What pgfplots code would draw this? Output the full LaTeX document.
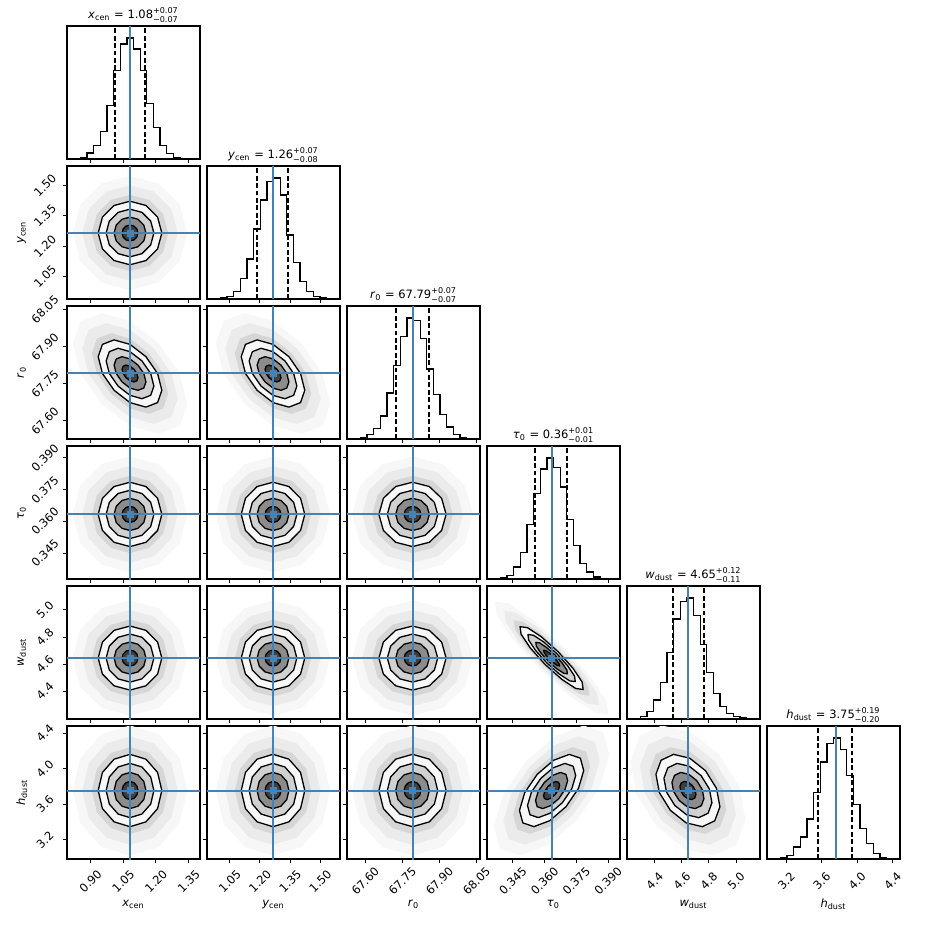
\documentclass[border=0pt]{standalone}
\usepackage{fontspec}
\setmainfont{DejaVu Sans}
\usepackage{amsmath}
\usepackage{pgfplots}
\usepackage{pgfplotstable}
\pgfplotsset{compat=1.18}
\definecolor{truth}{HTML}{4682B4}
\newcommand\fsz{\fontsize{5.75}{6.9}\selectfont}
\newcommand\Lxcen{\textit{x}$_{\text{cen}}$}
\newcommand\Lycen{\textit{y}$_{\text{cen}}$}
\newcommand\Lr{\textit{r}$_{\text{0}}$}
\newcommand\Lt{\textit{τ}$_{\text{0}}$}
\newcommand\Lw{\textit{w}$_{\text{dust}}$}
\newcommand\Lh{\textit{h}$_{\text{dust}}$}
\newcommand\pmq[2]{$^{\text{+#1}}_{\text{−#2}}$}

% contour shapes in units of sigma, radii 0.5 1 1.5 2 2.4 3 3.6
\pgfplotstableread{
x1 y1 x2 y2 x3 y3 x4 y4 x5 y5 x6 y6 x7 y7
0.5 0 1 0 1.5 0 2 0 2.4 0 3 0 3.6 0
0.433 0.25 0.866 0.5 1.299 0.75 1.732 1 2.078 1.2 2.598 1.5 3.118 1.8
0.25 0.433 0.5 0.866 0.75 1.299 1 1.732 1.2 2.078 1.5 2.598 1.8 3.118
0 0.5 0 1 0 1.5 0 2 0 2.4 0 3 0 3.6
-0.25 0.433 -0.5 0.866 -0.75 1.299 -1 1.732 -1.2 2.078 -1.5 2.598 -1.8 3.118
-0.433 0.25 -0.866 0.5 -1.299 0.75 -1.732 1 -2.078 1.2 -2.598 1.5 -3.118 1.8
-0.5 0 -1 0 -1.5 0 -2 0 -2.4 0 -3 0 -3.6 0
-0.433 -0.25 -0.866 -0.5 -1.299 -0.75 -1.732 -1 -2.078 -1.2 -2.598 -1.5 -3.118 -1.8
-0.25 -0.433 -0.5 -0.866 -0.75 -1.299 -1 -1.732 -1.2 -2.078 -1.5 -2.598 -1.8 -3.118
0 -0.5 0 -1 0 -1.5 0 -2 0 -2.4 0 -3 0 -3.6
0.25 -0.433 0.5 -0.866 0.75 -1.299 1 -1.732 1.2 -2.078 1.5 -2.598 1.8 -3.118
0.433 -0.25 0.866 -0.5 1.299 -0.75 1.732 -1 2.078 -1.2 2.598 -1.5 3.118 -1.8
0.5 0 1 0 1.5 0 2 0 2.4 0 3 0 3.6 0
}\tC

\pgfplotstableread{
x1 y1 x2 y2 x3 y3 x4 y4 x5 y5 x6 y6 x7 y7
0.25 0.25 0.5 0.5 0.75 0.75 1 1 1.2 1.2 1.5 1.5 1.8 1.8
0 0.433 0 0.866 0 1.299 0 1.732 0 2.078 0 2.598 0 3.118
-0.25 0.5 -0.5 1 -0.75 1.5 -1 2 -1.2 2.4 -1.5 3 -1.8 3.6
-0.433 0.433 -0.866 0.866 -1.299 1.299 -1.732 1.732 -2.078 2.078 -2.598 2.598 -3.118 3.118
-0.5 0.25 -1 0.5 -1.5 0.75 -2 1 -2.4 1.2 -3 1.5 -3.6 1.8
-0.433 0 -0.866 0 -1.299 0 -1.732 0 -2.078 0 -2.598 0 -3.118 0
-0.25 -0.25 -0.5 -0.5 -0.75 -0.75 -1 -1 -1.2 -1.2 -1.5 -1.5 -1.8 -1.8
0 -0.433 0 -0.866 0 -1.299 0 -1.732 0 -2.078 0 -2.598 0 -3.118
0.25 -0.5 0.5 -1 0.75 -1.5 1 -2 1.2 -2.4 1.5 -3 1.8 -3.6
0.433 -0.433 0.866 -0.866 1.299 -1.299 1.732 -1.732 2.078 -2.078 2.598 -2.598 3.118 -3.118
0.5 -0.25 1 -0.5 1.5 -0.75 2 -1 2.4 -1.2 3 -1.5 3.6 -1.8
0.433 0 0.866 0 1.299 0 1.732 0 2.078 0 2.598 0 3.118 0
0.25 0.25 0.5 0.5 0.75 0.75 1 1 1.2 1.2 1.5 1.5 1.8 1.8
}\tNf

\pgfplotstableread{
x1 y1 x2 y2 x3 y3 x4 y4 x5 y5 x6 y6 x7 y7
0.447 0.447 0.894 0.894 1.341 1.341 1.788 1.788 2.146 2.146 2.682 2.682 3.218 3.218
0.276 0.499 0.551 0.998 0.827 1.497 1.102 1.996 1.322 2.395 1.653 2.994 1.984 3.593
0.03 0.418 0.06 0.835 0.09 1.253 0.12 1.67 0.144 2.004 0.18 2.505 0.216 3.006
-0.224 0.224 -0.447 0.447 -0.671 0.671 -0.894 0.894 -1.073 1.073 -1.341 1.341 -1.609 1.609
-0.418 -0.03 -0.835 -0.06 -1.253 -0.09 -1.67 -0.12 -2.004 -0.144 -2.505 -0.18 -3.006 -0.216
-0.499 -0.276 -0.998 -0.551 -1.497 -0.827 -1.996 -1.102 -2.395 -1.322 -2.994 -1.653 -3.593 -1.984
-0.447 -0.447 -0.894 -0.894 -1.341 -1.341 -1.788 -1.788 -2.146 -2.146 -2.682 -2.682 -3.218 -3.218
-0.276 -0.499 -0.551 -0.998 -0.827 -1.497 -1.102 -1.996 -1.322 -2.395 -1.653 -2.994 -1.984 -3.593
-0.03 -0.418 -0.06 -0.835 -0.09 -1.253 -0.12 -1.67 -0.144 -2.004 -0.18 -2.505 -0.216 -3.006
0.224 -0.224 0.447 -0.447 0.671 -0.671 0.894 -0.894 1.073 -1.073 1.341 -1.341 1.609 -1.609
0.418 0.03 0.835 0.06 1.253 0.09 1.67 0.12 2.004 0.144 2.505 0.18 3.006 0.216
0.499 0.276 0.998 0.551 1.497 0.827 1.996 1.102 2.395 1.322 2.994 1.653 3.593 1.984
0.447 0.447 0.894 0.894 1.341 1.341 1.788 1.788 2.146 2.146 2.682 2.682 3.218 3.218
}\tP

\pgfplotstableread{
x1 y1 x2 y2 x3 y3 x4 y4 x5 y5 x6 y6 x7 y7
0.1 0.1 0.2 0.2 0.3 0.3 0.4 0.4 0.48 0.48 0.6 0.6 0.72 0.72
-0.159 0.332 -0.317 0.663 -0.476 0.995 -0.634 1.326 -0.761 1.591 -0.951 1.989 -1.141 2.387
-0.375 0.475 -0.749 0.949 -1.124 1.424 -1.498 1.898 -1.798 2.278 -2.247 2.847 -2.696 3.416
-0.49 0.49 -0.98 0.98 -1.47 1.47 -1.96 1.96 -2.352 2.352 -2.94 2.94 -3.528 3.528
-0.475 0.375 -0.949 0.749 -1.424 1.124 -1.898 1.498 -2.278 1.798 -2.847 2.247 -3.416 2.696
-0.332 0.159 -0.663 0.317 -0.995 0.476 -1.326 0.634 -1.591 0.761 -1.989 0.951 -2.387 1.141
-0.1 -0.1 -0.2 -0.2 -0.3 -0.3 -0.4 -0.4 -0.48 -0.48 -0.6 -0.6 -0.72 -0.72
0.159 -0.332 0.317 -0.663 0.476 -0.995 0.634 -1.326 0.761 -1.591 0.951 -1.989 1.141 -2.387
0.375 -0.475 0.749 -0.949 1.124 -1.424 1.498 -1.898 1.798 -2.278 2.247 -2.847 2.696 -3.416
0.49 -0.49 0.98 -0.98 1.47 -1.47 1.96 -1.96 2.352 -2.352 2.94 -2.94 3.528 -3.528
0.475 -0.375 0.949 -0.749 1.424 -1.124 1.898 -1.498 2.278 -1.798 2.847 -2.247 3.416 -2.696
0.332 -0.159 0.663 -0.317 0.995 -0.476 1.326 -0.634 1.591 -0.761 1.989 -0.951 2.387 -1.141
0.1 0.1 0.2 0.2 0.3 0.3 0.4 0.4 0.48 0.48 0.6 0.6 0.72 0.72
}\tNn

\pgfplotstableread{
x1 y1 x2 y2 x3 y3 x4 y4 x5 y5 x6 y6 x7 y7
0.274 0.274 0.548 0.548 0.822 0.822 1.096 1.096 1.315 1.315 1.644 1.644 1.973 1.973
0.028 0.447 0.056 0.893 0.084 1.34 0.112 1.786 0.134 2.143 0.168 2.679 0.202 3.215
-0.226 0.5 -0.451 0.999 -0.677 1.499 -0.902 1.998 -1.082 2.398 -1.353 2.997 -1.624 3.596
-0.419 0.419 -0.837 0.837 -1.256 1.256 -1.674 1.674 -2.009 2.009 -2.511 2.511 -3.013 3.013
-0.5 0.226 -0.999 0.451 -1.499 0.677 -1.998 0.902 -2.398 1.082 -2.997 1.353 -3.596 1.624
-0.447 -0.028 -0.893 -0.056 -1.34 -0.084 -1.786 -0.112 -2.143 -0.134 -2.679 -0.168 -3.215 -0.202
-0.274 -0.274 -0.548 -0.548 -0.822 -0.822 -1.096 -1.096 -1.315 -1.315 -1.644 -1.644 -1.973 -1.973
-0.028 -0.447 -0.056 -0.893 -0.084 -1.34 -0.112 -1.786 -0.134 -2.143 -0.168 -2.679 -0.202 -3.215
0.226 -0.5 0.451 -0.999 0.677 -1.499 0.902 -1.998 1.082 -2.398 1.353 -2.997 1.624 -3.596
0.419 -0.419 0.837 -0.837 1.256 -1.256 1.674 -1.674 2.009 -2.009 2.511 -2.511 3.013 -3.013
0.5 -0.226 0.999 -0.451 1.499 -0.677 1.998 -0.902 2.398 -1.082 2.997 -1.353 3.596 -1.624
0.447 0.028 0.893 0.056 1.34 0.084 1.786 0.112 2.143 0.134 2.679 0.168 3.215 0.202
0.274 0.274 0.548 0.548 0.822 0.822 1.096 1.096 1.315 1.315 1.644 1.644 1.973 1.973
}\tNv

\pgfplotsset{
  every axis title/.style={at={(0.5,1)}, anchor=south, inner sep=0.5pt, yshift=1pt, font=\fsz},
  cp/.style={scale only axis, width=66.5pt, height=66.5pt,
    axis line style={line width=0.6pt},
    tick align=outside, major tick length=2pt,
    every tick/.style={black, line width=0.5pt},
    xtick pos=lower, ytick pos=left,
    xticklabels={}, yticklabels={},
    tick label style={font=\fsz},
    xticklabel style={yshift=-9pt, rotate=45, anchor=center},
    yticklabel style={xshift=-9pt, rotate=45, anchor=center},
    label style={font=\fsz},
    xlabel style={at={(axis description cs:0.5,-0.34)}, anchor=center},
    ylabel style={at={(axis description cs:-0.34,0.5)}, anchor=center}},
  ctr/.style={draw=black, line width=0.65pt, line join=round},
  tl/.style={truth, line width=1pt},
  ql/.style={black, line width=0.9pt, dash pattern=on 2.4pt off 1.3pt},
  % parameter axes in sigma units about the median
  px xcen/.style={xmin=-3.959, xmax=4.397, xtick={-2.479,-0.425,1.630,3.685}},
  px ycen/.style={xmin=-4.152, xmax=4.215, xtick={-2.722,-0.823,1.076,2.975}},
  px r0/.style={xmin=-3.897, xmax=4.015, xtick={-2.809,-0.603,1.603,3.809}},
  px tau/.style={xmin=-4.013, xmax=4.25, xtick={-2.408,-0.434,1.539,3.513}},
  px w/.style={xmin=-3.805, xmax=4.5, xtick={-2.076,-0.381,1.314,3.008}},
  py ycen/.style={ymin=-4.152, ymax=4.215, ytick={-2.722,-0.823,1.076,2.975}},
  py r0/.style={ymin=-3.897, ymax=4.015, ytick={-2.809,-0.603,1.603,3.809}},
  py tau/.style={ymin=-4.013, ymax=4.25, ytick={-2.408,-0.434,1.539,3.513}},
  py w/.style={ymin=-3.805, ymax=4.5, ytick={-2.076,-0.381,1.314,3.008}},
  py h/.style={ymin=-3.784, ymax=3.564, ytick={-2.721,-0.760,1.201,3.162}},
  lx xcen/.style={xticklabels={0.90,1.05,1.20,1.35}, xlabel={\Lxcen}},
  lx ycen/.style={xticklabels={1.05,1.20,1.35,1.50}, xlabel={\Lycen}},
  lx r0/.style={xticklabels={67.60,67.75,67.90,68.05}, xlabel={\Lr}},
  lx tau/.style={xticklabels={0.345,0.360,0.375,0.390}, xlabel={\Lt}},
  lx w/.style={xticklabels={4.4,4.6,4.8,5.0}, xlabel={\Lw}},
  lx h/.style={xticklabels={3.2,3.6,4.0,4.4}, xlabel={\Lh}},
  ly ycen/.style={yticklabels={1.05,1.20,1.35,1.50}, ylabel={\Lycen}},
  ly r0/.style={yticklabels={67.60,67.75,67.90,68.05}, ylabel={\Lr}},
  ly tau/.style={yticklabels={0.345,0.360,0.375,0.390}, ylabel={\Lt}},
  ly w/.style={yticklabels={4.4,4.6,4.8,5.0}, ylabel={\Lw}},
  ly h/.style={yticklabels={3.2,3.6,4.0,4.4}, ylabel={\Lh}},
}

% 2d panel: position, options, shape table
\newcommand\twod[3]{%
\begin{axis}[cp, at={(#1)}, anchor=north west, #2]
\addplot[draw=none, fill=black!3] table[x=x7,y=y7] {#3};
\addplot[draw=none, fill=black!8] table[x=x6,y=y6] {#3};
\addplot[draw=none, fill=black!16] table[x=x5,y=y5] {#3};
\addplot[ctr, fill=black!3] table[x=x4,y=y4] {#3};
\addplot[ctr, fill=black!18] table[x=x3,y=y3] {#3};
\addplot[ctr, fill=black!45] table[x=x2,y=y2] {#3};
\addplot[ctr, fill=black!75] table[x=x1,y=y1] {#3};
\addplot[tl] coordinates {(0,-10) (0,10)};
\addplot[tl] coordinates {(-10,0) (10,0)};
\addplot[truth, only marks, mark=square*, mark size=1.5pt] coordinates {(0,0)};
\end{axis}}

% histogram panel (bin units): position, options, counts, q16, median, q84
\newcommand\hist[6]{%
\begin{axis}[cp, at={(#1)}, anchor=north west, xmin=0, xmax=20, ymin=0, ymax=1.1, ytick=\empty, #2]
\addplot[const plot, black, line width=0.65pt] coordinates {#3};
\addplot[ql] coordinates {(#4,0) (#4,1.1)};
\addplot[ql] coordinates {(#5,0) (#5,1.1)};
\addplot[ql] coordinates {(#6,0) (#6,1.1)};
\addplot[tl] coordinates {(#5,0) (#5,1.1)};
\end{axis}}

\begin{document}
\begin{tikzpicture}
\path[use as bounding box] (0,0) rectangle (463pt,-463pt);

% row 0
\hist{33.5pt,-13pt}{xtick={3.541,8.459,13.377,18.295}, title={\Lxcen{} = 1.08\pmq{0.07}{0.07}}}
{(0,0) (1,0.005) (2,0.011) (3,0.05) (4,0.11) (5,0.23) (6,0.44) (7,0.73) (8,0.95) (9,1) (10,0.91) (11,0.73) (12,0.46) (13,0.26) (14,0.11) (15,0.045) (16,0.015) (17,0.003) (18,0) (19,0) (20,0)}
{7.18}{9.475}{11.77}

% row 1
\twod{33.5pt,-83pt}{px xcen, py ycen, ly ycen}{\tC}
\hist{103.5pt,-83pt}{xtick={3.419,7.958,12.496,17.035}, title={\Lycen{} = 1.26\pmq{0.07}{0.08}}}
{(0,0) (1,0.003) (2,0.008) (3,0.02) (4,0.06) (5,0.17) (6,0.33) (7,0.58) (8,0.82) (9,0.97) (10,1) (11,0.86) (12,0.53) (13,0.3) (14,0.146) (15,0.063) (16,0.022) (17,0.008) (18,0.002) (19,0) (20,0)}
{7.564}{9.924}{12.194}

% row 2
\twod{33.5pt,-153pt}{px xcen, py r0, ly r0}{\tNf}
\twod{103.5pt,-153pt}{px ycen, py r0}{\tNf}
\hist{173.5pt,-153pt}{xtick={2.751,8.327,13.903,19.48}, title={\Lr{} = 67.79\pmq{0.07}{0.07}}}
{(0,0) (1,0.003) (2,0.012) (3,0.036) (4,0.085) (5,0.19) (6,0.38) (7,0.61) (8,0.85) (9,1) (10,0.98) (11,0.83) (12,0.58) (13,0.37) (14,0.2) (15,0.1) (16,0.04) (17,0.014) (18,0.004) (19,0) (20,0)}
{7.398}{9.851}{12.305}

% row 3
\twod{33.5pt,-223pt}{px xcen, py tau, ly tau}{\tC}
\twod{103.5pt,-223pt}{px ycen, py tau}{\tC}
\twod{173.5pt,-223pt}{px r0, py tau}{\tC}
\hist{243.5pt,-223pt}{xtick={3.885,8.662,13.439,18.217}, title={\Lt{} = 0.36\pmq{0.01}{0.01}}}
{(0,0) (1,0.003) (2,0.011) (3,0.03) (4,0.1) (5,0.22) (6,0.45) (7,0.71) (8,0.91) (9,1) (10,0.92) (11,0.76) (12,0.49) (13,0.28) (14,0.13) (15,0.058) (16,0.017) (17,0.006) (18,0.002) (19,0) (20,0)}
{7.166}{9.713}{12.006}

% row 4
\twod{33.5pt,-293pt}{px xcen, py w, ly w}{\tC}
\twod{103.5pt,-293pt}{px ycen, py w}{\tC}
\twod{173.5pt,-293pt}{px r0, py w}{\tC}
\twod{243.5pt,-293pt}{px tau, py w}{\tNn}
\hist{313.5pt,-293pt}{xtick={4.163,8.245,12.327,16.408}, title={\Lw{} = 4.65\pmq{0.12}{0.11}}}
{(0,0) (1,0.005) (2,0.022) (3,0.063) (4,0.158) (5,0.3) (6,0.549) (7,0.828) (8,0.973) (9,1) (10,0.855) (11,0.615) (12,0.385) (13,0.21) (14,0.104) (15,0.044) (16,0.022) (17,0.008) (18,0.002) (19,0) (20,0)}
{6.918}{9.163}{11.612}

% row 5
\twod{33.5pt,-363pt}{px xcen, py h, ly h, lx xcen}{\tC}
\twod{103.5pt,-363pt}{px ycen, py h, lx ycen}{\tC}
\twod{173.5pt,-363pt}{px r0, py h, lx r0}{\tC}
\twod{243.5pt,-363pt}{px tau, py h, lx tau}{\tP}
\twod{313.5pt,-363pt}{px w, py h, lx w}{\tNv}
\hist{383.5pt,-363pt}{xtick={2.895,8.232,13.569,18.906}, lx h, title={\Lh{} = 3.75\pmq{0.19}{0.20}}}
{(0,0) (1,0.003) (2,0.008) (3,0.028) (4,0.099) (5,0.183) (6,0.332) (7,0.549) (8,0.803) (9,0.958) (10,1) (11,0.907) (12,0.69) (13,0.451) (14,0.254) (15,0.127) (16,0.048) (17,0.014) (18,0.006) (19,0.002) (20,0.002)}
{7.658}{10.3}{12.795}
\end{tikzpicture}
\end{document}
